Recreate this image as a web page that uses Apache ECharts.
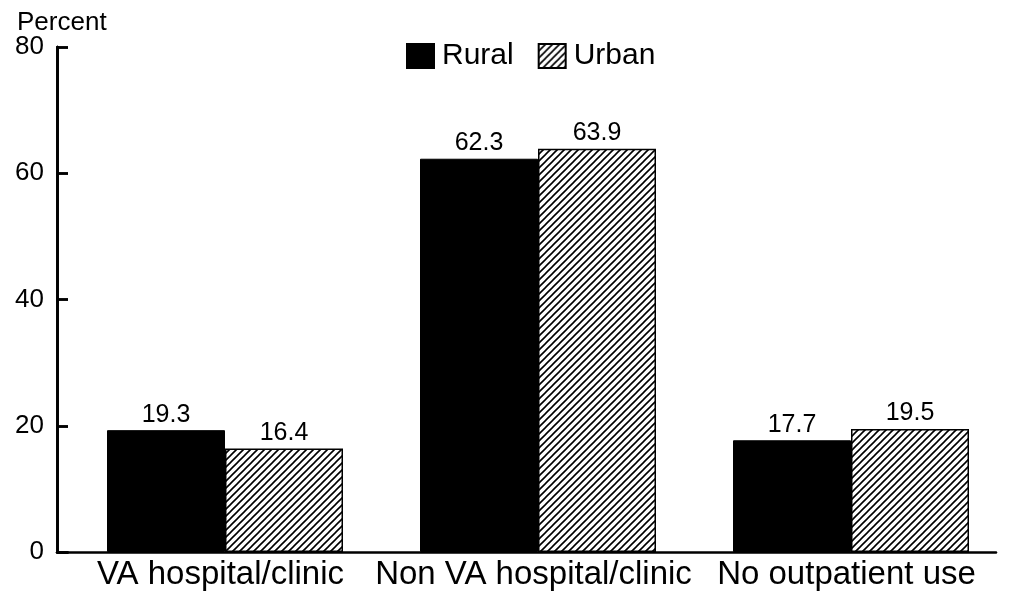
<!DOCTYPE html>
<html>
<head>
<meta charset="utf-8">
<script src="https://cdn.jsdelivr.net/npm/echarts@6/dist/echarts.min.js"></script>
<style>html,body{margin:0;padding:0;background:#fff}#c{width:1010px;height:596px}</style>
</head>
<body>
<div id="c"></div>
<script>
const categories = ['VA hospital/clinic', 'Non VA hospital/clinic', 'No outpatient use'];
const ruralValues = [19.3, 62.3, 17.7];
const urbanValues = [16.4, 63.9, 19.5];
const seriesNames = ['Rural', 'Urban'];
const yTicks = { min: 0, max: 80, interval: 20 };

function hatch() {
  const s = 7;
  const c = document.createElement('canvas');
  c.width = s; c.height = s;
  const g = c.getContext('2d');
  g.fillStyle = '#fff'; g.fillRect(0, 0, s, s);
  g.strokeStyle = '#000'; g.lineWidth = 1.6;
  g.beginPath();
  g.moveTo(-1, s + 1); g.lineTo(s + 1, -1);
  g.moveTo(-1, 1); g.lineTo(1, -1);
  g.moveTo(s - 1, s + 1); g.lineTo(s + 1, s - 1);
  g.stroke();
  return c;
}
const font = 'Liberation Sans, Arial, Helvetica, sans-serif';
const chart = echarts.init(document.getElementById('c'));
chart.setOption({
  animation: false,
  title: { text: 'Percent', left: 12, top: 5, textStyle: { fontFamily: font, fontSize: 26, fontWeight: 'normal', color: '#000' } },
  legend: {
    left: 401, top: 36, itemWidth: 27, itemHeight: 24, itemGap: 24, icon: 'rect',
    textStyle: { fontFamily: font, fontSize: 30, color: '#000', padding: [0, 0, 0, 3] },
    data: seriesNames
  },
  grid: [
    { left: 57, width: 939, top: 47, bottom: 44 },
    { left: 57, width: 11, top: 47, bottom: 44 }
  ],
  xAxis: [
    {
      type: 'category', data: categories, gridIndex: 0,
      axisLine: { show: true, lineStyle: { color: '#000', width: 2.5 } },
      axisTick: { show: false },
      axisLabel: { fontFamily: font, fontSize: 33, color: '#000', margin: 6, interval: 0, padding: [0, 0, 0, 14] }
    },
    {
      type: 'category', data: [''], gridIndex: 1,
      axisLine: { show: true, lineStyle: { color: '#000', width: 2.5 } },
      axisTick: { show: false }, axisLabel: { show: false }
    }
  ],
  yAxis: [
    {
      type: 'value', gridIndex: 0, min: yTicks.min, max: yTicks.max, interval: yTicks.interval,
      axisLine: { show: true, lineStyle: { color: '#000', width: 2.5 } },
      axisTick: { show: true, inside: true, length: 11, lineStyle: { color: '#000', width: 2.5 } },
      axisLabel: { fontFamily: font, fontSize: 26, color: '#000', margin: 13 },
      splitLine: { show: false }
    },
    {
      type: 'value', gridIndex: 0, position: 'left', min: yTicks.min, max: yTicks.max, interval: yTicks.interval,
      axisLine: { show: true, lineStyle: { color: '#000', width: 2.5 } },
      axisTick: { show: true, inside: true, length: 11, lineStyle: { color: '#000', width: 2.5 } },
      axisLabel: { show: false },
      splitLine: { show: false }
    },
    {
      type: 'value', gridIndex: 1, min: yTicks.min, max: yTicks.max, interval: yTicks.interval,
      axisLine: { show: true, lineStyle: { color: '#000', width: 2.5 } },
      axisTick: { show: false },
      axisLabel: { show: false },
      splitLine: { show: true, lineStyle: { color: '#000', width: 2.5 } }
    }
  ],
  series: [
    {
      name: 'spacer', type: 'bar', data: [], barWidth: 23, barGap: '0%', silent: true,
      xAxisIndex: 0, yAxisIndex: 0, itemStyle: { color: 'transparent' }
    },
    {
      name: seriesNames[0], type: 'bar', data: ruralValues, barWidth: 118, barGap: '0%',
      xAxisIndex: 0, yAxisIndex: 0,
      itemStyle: { color: '#000', borderColor: '#000', borderWidth: 1 },
      label: { show: true, position: 'top', distance: 3, fontFamily: font, fontSize: 25, color: '#000' }
    },
    {
      name: seriesNames[1], type: 'bar', data: urbanValues, barWidth: 118, barGap: '0%',
      xAxisIndex: 0, yAxisIndex: 0,
      itemStyle: { color: { image: hatch(), repeat: 'repeat' }, borderColor: '#000', borderWidth: 1.5 },
      label: { show: true, position: 'top', distance: 3, fontFamily: font, fontSize: 25, color: '#000' }
    },
    {
      name: 'tickHolder', type: 'bar', data: [], silent: true,
      xAxisIndex: 1, yAxisIndex: 2, itemStyle: { color: 'transparent' }
    }
  ]
});
</script>
</body>
</html>
